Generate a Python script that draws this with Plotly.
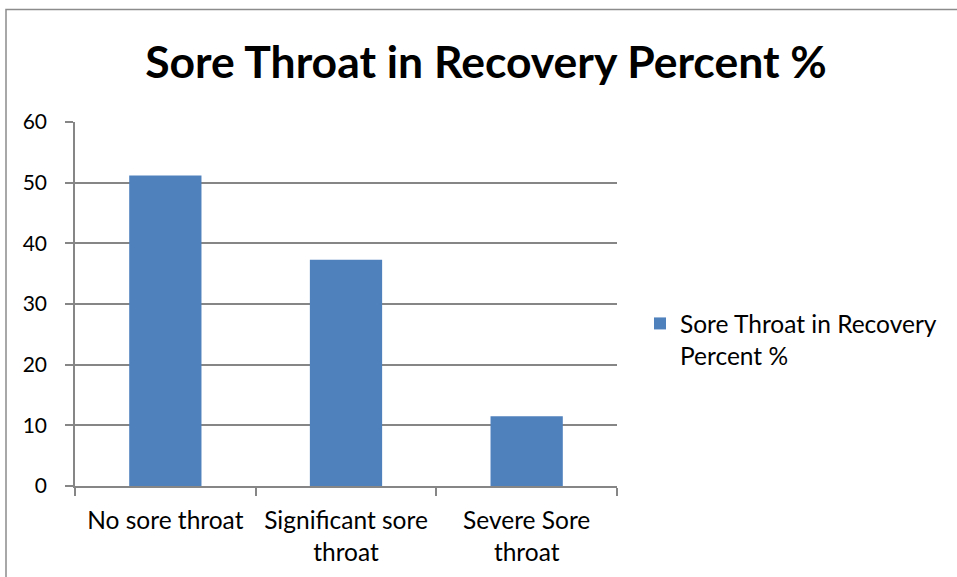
import plotly.graph_objects as go

categories = ["No sore throat", "Significant sore<br>throat", "Severe Sore<br>throat"]
values = [51.2, 37.3, 11.5]
series_name = "Sore Throat in Recovery<br>Percent %"
title_text = "Sore Throat in Recovery Percent %"

W, H = 957, 577
L, R, T, B = 75, 617, 122, 486
pw, ph = R - L, B - T

FONT = "Lato"
GRID = "#868686"

fig = go.Figure()
fig.add_trace(go.Bar(
    x=categories, y=values, name=series_name,
    marker=dict(color="#4F81BD", line=dict(width=0)),
    showlegend=True,
))

def px_x(x):
    return (x - L) / pw

def px_y(y):
    return (B - y) / ph

fig.update_layout(
    width=W, height=H,
    margin=dict(l=L, r=W - R, t=T, b=H - B, pad=0),
    paper_bgcolor="white", plot_bgcolor="white",
    font=dict(family=FONT, size=24.5, color="black"),
    bargap=0.6,
    title=dict(text="<b>" + title_text + "</b>", x=486 / W, xanchor="center",
               y=1 - 62 / H, yanchor="middle", font=dict(family=FONT, size=44.5, color="black")),
    xaxis=dict(showgrid=False, showline=True, linecolor=GRID, linewidth=1.5,
               ticks="outside", ticklen=8, tickcolor=GRID, tickwidth=1.5,
               tickson="boundaries", tickfont=dict(size=24.5, family=FONT),
               ticklabelstandoff=12),
    yaxis=dict(range=[0, 60], dtick=10, showgrid=True, gridcolor=GRID, gridwidth=1.5,
               showline=True, linecolor=GRID, linewidth=1.5, zeroline=False,
               ticks="outside", ticklen=8, tickcolor=GRID, tickwidth=1.5,
               tickfont=dict(size=21, family=FONT), ticklabelstandoff=14),
    legend=dict(x=px_x(640), y=px_y(301), xanchor="left", yanchor="top", valign="top",
                font=dict(size=24.5, family=FONT), bgcolor="rgba(0,0,0,0)"),
)

# chart border
fig.add_shape(type="rect", xref="paper", yref="paper",
              x0=px_x(6), x1=px_x(1100), y0=px_y(700), y1=px_y(9.5),
              line=dict(color="#8c8c8c", width=1.5), fillcolor="rgba(0,0,0,0)", layer="below")

fig.write_html("out.html", config={"displayModeBar": False},
               post_script="document.body.style.margin='0';document.body.style.overflow='hidden';")
